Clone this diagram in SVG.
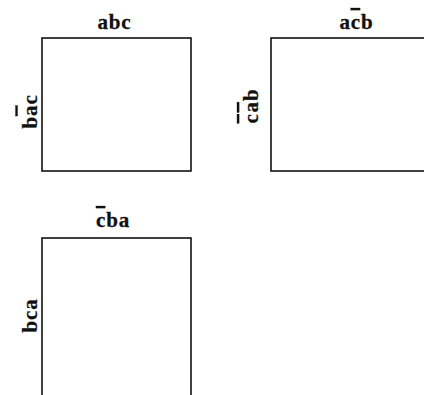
<svg xmlns="http://www.w3.org/2000/svg" width="424" height="395" viewBox="0 0 424 395">
<style>
.box{fill:#fff;stroke:#111;stroke-width:1.6}
.lbl{font-family:"Liberation Serif","Times New Roman",serif;font-weight:700;font-size:21px;fill:#111;stroke:#111;stroke-width:0.3;letter-spacing:0.8px}
.bar{text-decoration:overline;letter-spacing:0}
</style>
<rect width="424" height="395" fill="#fff"/>
<g id="panel-abc">
<rect class="box" x="42" y="38" width="149" height="133"/>
<text class="lbl" x="114.5" y="29" text-anchor="middle">abc</text>
<text class="lbl" transform="translate(36.5,111.5) rotate(-90)" text-anchor="middle">b<tspan class="bar">a</tspan><tspan dx="1">c</tspan></text>
</g>
<g id="panel-acb">
<rect class="box" x="271" y="38" width="170" height="133"/>
<text class="lbl" x="356.5" y="29" text-anchor="middle">a<tspan class="bar">c</tspan><tspan dx="1">b</tspan></text>
<text class="lbl" transform="translate(258,106) rotate(-90)" text-anchor="middle"><tspan class="bar">c</tspan><tspan class="bar" dx="1.5">a</tspan><tspan dx="1">b</tspan></text>
</g>
<g id="panel-cba">
<rect class="box" x="42" y="238" width="149" height="180"/>
<text class="lbl" x="113" y="227" text-anchor="middle"><tspan class="bar">c</tspan><tspan dx="1">ba</tspan></text>
<text class="lbl" transform="translate(36.5,315.5) rotate(-90)" text-anchor="middle">bca</text>
</g>
</svg>
